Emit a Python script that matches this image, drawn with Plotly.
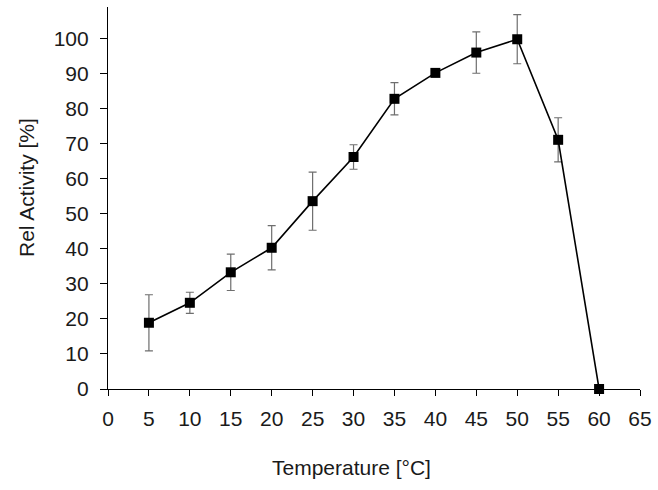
import plotly.graph_objects as go

temperature = [5, 10, 15, 20, 25, 30, 35, 40, 45, 50, 55, 60]
rel_activity = [18.9, 24.6, 33.3, 40.3, 53.6, 66.2, 82.8, 90.2, 96.0, 99.8, 71.1, 0.0]
error = [8.0, 3.0, 5.2, 6.3, 8.3, 3.5, 4.6, 0.8, 5.9, 7.0, 6.3, 0.0]

x_ticks = list(range(0, 70, 5))
y_ticks = list(range(0, 110, 10))

W, H = 658, 490
L, R, T, B = 108, 18, 7, 101
pw, ph = W - L - R, H - T - B

fig = go.Figure()
fig.add_trace(go.Scatter(
    x=temperature, y=rel_activity,
    mode="lines+markers",
    line=dict(color="black", width=1.6),
    marker=dict(symbol="square", size=10, color="black"),
    error_y=dict(type="data", array=error, visible=True, color="#6e6e6e", thickness=1.2, width=4),
    cliponaxis=False,
    showlegend=False,
))

font_family = "Liberation Sans, Arial, sans-serif"
fig.update_layout(
    width=W, height=H,
    margin=dict(l=L, r=R, t=T, b=B),
    paper_bgcolor="white", plot_bgcolor="white",
    font=dict(family=font_family, size=21, color="#1a1a1a"),
    xaxis=dict(
        range=[0, 65], tickvals=x_ticks, ticktext=[str(v) for v in x_ticks],
        showline=True, linecolor="black", linewidth=1.2,
        ticks="outside", ticklen=6, tickcolor="black", tickwidth=1.2,
        ticklabelstandoff=5,
        showgrid=False, zeroline=False,
    ),
    yaxis=dict(
        range=[0, 109], tickvals=y_ticks, ticktext=[str(v) for v in y_ticks],
        showline=True, linecolor="black", linewidth=1.2,
        ticks="outside", ticklen=7, tickcolor="black", tickwidth=1.2,
        ticklabelstandoff=7,
        showgrid=False, zeroline=False,
    ),
    annotations=[
        dict(text="Temperature [°C]", xref="paper", yref="paper",
             x=(351 - L) / pw, y=-(467 - (H - B)) / ph,
             xanchor="center", yanchor="middle", showarrow=False,
             font=dict(size=21)),
        dict(text="Rel Activity [%]", xref="paper", yref="paper",
             x=-(L - 26) / pw, y=((H - B) - 188) / ph, textangle=-90,
             xanchor="center", yanchor="middle", showarrow=False,
             font=dict(size=21)),
    ],
)
fig.write_html("out.html", config={"displayModeBar": False},
               post_script="document.body.style.margin='0';")
